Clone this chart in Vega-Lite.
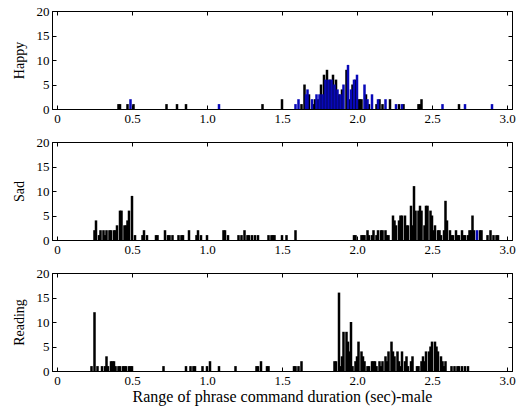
{
 "$schema": "https://vega.github.io/schema/vega-lite/v6.json",
 "data": {"values": [
  {"p":"Happy","s":"k","d":0.41,"n":1},{"p":"Happy","s":"k","d":0.42,"n":1},{"p":"Happy","s":"k","d":0.47,"n":1},{"p":"Happy","s":"k","d":0.51,"n":1},{"p":"Happy","s":"k","d":0.73,"n":1},{"p":"Happy","s":"k","d":0.80,"n":1},{"p":"Happy","s":"k","d":0.86,"n":1},{"p":"Happy","s":"k","d":1.37,"n":1},{"p":"Happy","s":"k","d":1.50,"n":2},{"p":"Happy","s":"k","d":1.63,"n":1},{"p":"Happy","s":"k","d":1.65,"n":5},{"p":"Happy","s":"k","d":1.68,"n":3},{"p":"Happy","s":"k","d":1.71,"n":1},{"p":"Happy","s":"k","d":1.72,"n":2},{"p":"Happy","s":"k","d":1.74,"n":2},{"p":"Happy","s":"k","d":1.76,"n":5},{"p":"Happy","s":"k","d":1.78,"n":7},{"p":"Happy","s":"k","d":1.80,"n":8},{"p":"Happy","s":"k","d":1.82,"n":6},{"p":"Happy","s":"k","d":1.84,"n":7},{"p":"Happy","s":"k","d":1.86,"n":6},{"p":"Happy","s":"k","d":1.88,"n":3},{"p":"Happy","s":"k","d":1.90,"n":4},{"p":"Happy","s":"k","d":1.93,"n":8},{"p":"Happy","s":"k","d":1.95,"n":2},{"p":"Happy","s":"k","d":1.97,"n":5},{"p":"Happy","s":"k","d":1.99,"n":6},{"p":"Happy","s":"k","d":2.01,"n":2},{"p":"Happy","s":"k","d":2.02,"n":2},{"p":"Happy","s":"k","d":2.03,"n":2},{"p":"Happy","s":"k","d":2.06,"n":3},{"p":"Happy","s":"k","d":2.08,"n":1},{"p":"Happy","s":"k","d":2.13,"n":1},{"p":"Happy","s":"k","d":2.15,"n":2},{"p":"Happy","s":"k","d":2.17,"n":1},{"p":"Happy","s":"k","d":2.22,"n":2},{"p":"Happy","s":"k","d":2.28,"n":1},{"p":"Happy","s":"k","d":2.31,"n":1},{"p":"Happy","s":"k","d":2.41,"n":1},{"p":"Happy","s":"k","d":2.42,"n":1},{"p":"Happy","s":"k","d":2.43,"n":2},{"p":"Happy","s":"k","d":2.68,"n":1},
  {"p":"Happy","s":"b","d":0.49,"n":2},{"p":"Happy","s":"b","d":1.08,"n":1},{"p":"Happy","s":"b","d":1.59,"n":1},{"p":"Happy","s":"b","d":1.61,"n":2},{"p":"Happy","s":"b","d":1.66,"n":3},{"p":"Happy","s":"b","d":1.67,"n":4},{"p":"Happy","s":"b","d":1.70,"n":2},{"p":"Happy","s":"b","d":1.73,"n":3},{"p":"Happy","s":"b","d":1.75,"n":3},{"p":"Happy","s":"b","d":1.77,"n":3},{"p":"Happy","s":"b","d":1.79,"n":6},{"p":"Happy","s":"b","d":1.81,"n":6},{"p":"Happy","s":"b","d":1.83,"n":6},{"p":"Happy","s":"b","d":1.85,"n":5},{"p":"Happy","s":"b","d":1.87,"n":4},{"p":"Happy","s":"b","d":1.89,"n":3},{"p":"Happy","s":"b","d":1.91,"n":5},{"p":"Happy","s":"b","d":1.94,"n":9},{"p":"Happy","s":"b","d":1.96,"n":4},{"p":"Happy","s":"b","d":1.98,"n":6},{"p":"Happy","s":"b","d":2.00,"n":7},{"p":"Happy","s":"b","d":2.05,"n":5},{"p":"Happy","s":"b","d":2.07,"n":2},{"p":"Happy","s":"b","d":2.10,"n":3},{"p":"Happy","s":"b","d":2.14,"n":2},{"p":"Happy","s":"b","d":2.19,"n":2},{"p":"Happy","s":"b","d":2.26,"n":1},{"p":"Happy","s":"b","d":2.30,"n":1},{"p":"Happy","s":"b","d":2.57,"n":1},{"p":"Happy","s":"b","d":2.72,"n":1},{"p":"Happy","s":"b","d":2.90,"n":1},
  {"p":"Sad","s":"k","d":0.25,"n":2},{"p":"Sad","s":"k","d":0.26,"n":4},{"p":"Sad","s":"k","d":0.28,"n":1},{"p":"Sad","s":"k","d":0.29,"n":2},{"p":"Sad","s":"k","d":0.31,"n":2},{"p":"Sad","s":"k","d":0.32,"n":1},{"p":"Sad","s":"k","d":0.33,"n":2},{"p":"Sad","s":"k","d":0.35,"n":2},{"p":"Sad","s":"k","d":0.36,"n":2},{"p":"Sad","s":"k","d":0.38,"n":2},{"p":"Sad","s":"k","d":0.39,"n":2},{"p":"Sad","s":"k","d":0.40,"n":3},{"p":"Sad","s":"k","d":0.42,"n":6},{"p":"Sad","s":"k","d":0.43,"n":6},{"p":"Sad","s":"k","d":0.45,"n":3},{"p":"Sad","s":"k","d":0.46,"n":3},{"p":"Sad","s":"k","d":0.47,"n":4},{"p":"Sad","s":"k","d":0.48,"n":6},{"p":"Sad","s":"k","d":0.50,"n":9},{"p":"Sad","s":"k","d":0.52,"n":1},{"p":"Sad","s":"k","d":0.57,"n":1},{"p":"Sad","s":"k","d":0.58,"n":2},{"p":"Sad","s":"k","d":0.60,"n":1},{"p":"Sad","s":"k","d":0.66,"n":1},{"p":"Sad","s":"k","d":0.67,"n":1},{"p":"Sad","s":"k","d":0.72,"n":2},{"p":"Sad","s":"k","d":0.74,"n":1},{"p":"Sad","s":"k","d":0.75,"n":1},{"p":"Sad","s":"k","d":0.77,"n":1},{"p":"Sad","s":"k","d":0.81,"n":1},{"p":"Sad","s":"k","d":0.83,"n":1},{"p":"Sad","s":"k","d":0.84,"n":1},{"p":"Sad","s":"k","d":0.88,"n":2},{"p":"Sad","s":"k","d":0.93,"n":1},{"p":"Sad","s":"k","d":0.94,"n":2},{"p":"Sad","s":"k","d":0.96,"n":1},{"p":"Sad","s":"k","d":1.00,"n":1},{"p":"Sad","s":"k","d":1.11,"n":2},{"p":"Sad","s":"k","d":1.12,"n":2},{"p":"Sad","s":"k","d":1.14,"n":1},{"p":"Sad","s":"k","d":1.21,"n":1},{"p":"Sad","s":"k","d":1.23,"n":1},{"p":"Sad","s":"k","d":1.25,"n":2},{"p":"Sad","s":"k","d":1.27,"n":1},{"p":"Sad","s":"k","d":1.28,"n":1},{"p":"Sad","s":"k","d":1.30,"n":1},{"p":"Sad","s":"k","d":1.32,"n":1},{"p":"Sad","s":"k","d":1.34,"n":1},{"p":"Sad","s":"k","d":1.41,"n":1},{"p":"Sad","s":"k","d":1.43,"n":1},{"p":"Sad","s":"k","d":1.44,"n":1},{"p":"Sad","s":"k","d":1.45,"n":1},{"p":"Sad","s":"k","d":1.50,"n":1},{"p":"Sad","s":"k","d":1.53,"n":1},{"p":"Sad","s":"k","d":1.59,"n":2},{"p":"Sad","s":"k","d":1.98,"n":1},{"p":"Sad","s":"k","d":1.99,"n":1},{"p":"Sad","s":"k","d":2.03,"n":1},{"p":"Sad","s":"k","d":2.04,"n":1},{"p":"Sad","s":"k","d":2.05,"n":1},{"p":"Sad","s":"k","d":2.07,"n":2},{"p":"Sad","s":"k","d":2.08,"n":1},{"p":"Sad","s":"k","d":2.10,"n":1},{"p":"Sad","s":"k","d":2.11,"n":2},{"p":"Sad","s":"k","d":2.13,"n":1},{"p":"Sad","s":"k","d":2.14,"n":2},{"p":"Sad","s":"k","d":2.16,"n":2},{"p":"Sad","s":"k","d":2.17,"n":2},{"p":"Sad","s":"k","d":2.19,"n":2},{"p":"Sad","s":"k","d":2.20,"n":1},{"p":"Sad","s":"k","d":2.21,"n":1},{"p":"Sad","s":"k","d":2.24,"n":5},{"p":"Sad","s":"k","d":2.25,"n":4},{"p":"Sad","s":"k","d":2.26,"n":3},{"p":"Sad","s":"k","d":2.28,"n":4},{"p":"Sad","s":"k","d":2.29,"n":5},{"p":"Sad","s":"k","d":2.30,"n":5},{"p":"Sad","s":"k","d":2.32,"n":5},{"p":"Sad","s":"k","d":2.33,"n":3},{"p":"Sad","s":"k","d":2.34,"n":3},{"p":"Sad","s":"k","d":2.36,"n":7},{"p":"Sad","s":"k","d":2.37,"n":3},{"p":"Sad","s":"k","d":2.38,"n":11},{"p":"Sad","s":"k","d":2.39,"n":6},{"p":"Sad","s":"k","d":2.41,"n":6},{"p":"Sad","s":"k","d":2.42,"n":7},{"p":"Sad","s":"k","d":2.43,"n":6},{"p":"Sad","s":"k","d":2.45,"n":3},{"p":"Sad","s":"k","d":2.46,"n":7},{"p":"Sad","s":"k","d":2.47,"n":7},{"p":"Sad","s":"k","d":2.49,"n":6},{"p":"Sad","s":"k","d":2.50,"n":5},{"p":"Sad","s":"k","d":2.51,"n":2},{"p":"Sad","s":"k","d":2.52,"n":3},{"p":"Sad","s":"k","d":2.54,"n":2},{"p":"Sad","s":"k","d":2.55,"n":2},{"p":"Sad","s":"k","d":2.56,"n":1},{"p":"Sad","s":"k","d":2.58,"n":2},{"p":"Sad","s":"k","d":2.59,"n":8},{"p":"Sad","s":"k","d":2.60,"n":4},{"p":"Sad","s":"k","d":2.62,"n":2},{"p":"Sad","s":"k","d":2.63,"n":1},{"p":"Sad","s":"k","d":2.64,"n":1},{"p":"Sad","s":"k","d":2.66,"n":2},{"p":"Sad","s":"k","d":2.67,"n":1},{"p":"Sad","s":"k","d":2.68,"n":1},{"p":"Sad","s":"k","d":2.70,"n":2},{"p":"Sad","s":"k","d":2.71,"n":1},{"p":"Sad","s":"k","d":2.72,"n":1},{"p":"Sad","s":"k","d":2.74,"n":1},{"p":"Sad","s":"k","d":2.75,"n":2},{"p":"Sad","s":"k","d":2.76,"n":2},{"p":"Sad","s":"k","d":2.77,"n":5},{"p":"Sad","s":"k","d":2.78,"n":2},{"p":"Sad","s":"k","d":2.82,"n":2},{"p":"Sad","s":"k","d":2.83,"n":2},{"p":"Sad","s":"k","d":2.87,"n":1},{"p":"Sad","s":"k","d":2.89,"n":2},{"p":"Sad","s":"k","d":2.91,"n":1},{"p":"Sad","s":"k","d":2.93,"n":1},{"p":"Sad","s":"k","d":2.94,"n":1},
  {"p":"Sad","s":"b","d":2.80,"n":2},
  {"p":"Reading","s":"k","d":0.23,"n":1},{"p":"Reading","s":"k","d":0.25,"n":12},{"p":"Reading","s":"k","d":0.27,"n":1},{"p":"Reading","s":"k","d":0.30,"n":1},{"p":"Reading","s":"k","d":0.32,"n":1},{"p":"Reading","s":"k","d":0.33,"n":3},{"p":"Reading","s":"k","d":0.34,"n":1},{"p":"Reading","s":"k","d":0.36,"n":2},{"p":"Reading","s":"k","d":0.37,"n":2},{"p":"Reading","s":"k","d":0.38,"n":2},{"p":"Reading","s":"k","d":0.39,"n":1},{"p":"Reading","s":"k","d":0.41,"n":1},{"p":"Reading","s":"k","d":0.42,"n":1},{"p":"Reading","s":"k","d":0.44,"n":1},{"p":"Reading","s":"k","d":0.45,"n":1},{"p":"Reading","s":"k","d":0.46,"n":1},{"p":"Reading","s":"k","d":0.48,"n":1},{"p":"Reading","s":"k","d":0.49,"n":1},{"p":"Reading","s":"k","d":0.50,"n":1},{"p":"Reading","s":"k","d":0.71,"n":1},{"p":"Reading","s":"k","d":0.86,"n":1},{"p":"Reading","s":"k","d":0.89,"n":1},{"p":"Reading","s":"k","d":0.91,"n":1},{"p":"Reading","s":"k","d":0.92,"n":1},{"p":"Reading","s":"k","d":0.97,"n":1},{"p":"Reading","s":"k","d":1.00,"n":1},{"p":"Reading","s":"k","d":1.02,"n":2},{"p":"Reading","s":"k","d":1.08,"n":1},{"p":"Reading","s":"k","d":1.19,"n":1},{"p":"Reading","s":"k","d":1.33,"n":1},{"p":"Reading","s":"k","d":1.34,"n":1},{"p":"Reading","s":"k","d":1.36,"n":2},{"p":"Reading","s":"k","d":1.40,"n":1},{"p":"Reading","s":"k","d":1.41,"n":1},{"p":"Reading","s":"k","d":1.58,"n":1},{"p":"Reading","s":"k","d":1.59,"n":1},{"p":"Reading","s":"k","d":1.61,"n":1},{"p":"Reading","s":"k","d":1.63,"n":2},{"p":"Reading","s":"k","d":1.85,"n":2},{"p":"Reading","s":"k","d":1.86,"n":2},{"p":"Reading","s":"k","d":1.88,"n":16},{"p":"Reading","s":"k","d":1.89,"n":1},{"p":"Reading","s":"k","d":1.90,"n":3},{"p":"Reading","s":"k","d":1.91,"n":8},{"p":"Reading","s":"k","d":1.93,"n":8},{"p":"Reading","s":"k","d":1.94,"n":6},{"p":"Reading","s":"k","d":1.95,"n":4},{"p":"Reading","s":"k","d":1.96,"n":10},{"p":"Reading","s":"k","d":1.97,"n":1},{"p":"Reading","s":"k","d":1.99,"n":2},{"p":"Reading","s":"k","d":2.00,"n":3},{"p":"Reading","s":"k","d":2.01,"n":6},{"p":"Reading","s":"k","d":2.03,"n":4},{"p":"Reading","s":"k","d":2.04,"n":3},{"p":"Reading","s":"k","d":2.05,"n":2},{"p":"Reading","s":"k","d":2.07,"n":1},{"p":"Reading","s":"k","d":2.08,"n":1},{"p":"Reading","s":"k","d":2.10,"n":2},{"p":"Reading","s":"k","d":2.11,"n":2},{"p":"Reading","s":"k","d":2.12,"n":2},{"p":"Reading","s":"k","d":2.13,"n":1},{"p":"Reading","s":"k","d":2.15,"n":2},{"p":"Reading","s":"k","d":2.16,"n":1},{"p":"Reading","s":"k","d":2.17,"n":2},{"p":"Reading","s":"k","d":2.19,"n":3},{"p":"Reading","s":"k","d":2.20,"n":2},{"p":"Reading","s":"k","d":2.21,"n":4},{"p":"Reading","s":"k","d":2.23,"n":6},{"p":"Reading","s":"k","d":2.24,"n":4},{"p":"Reading","s":"k","d":2.25,"n":3},{"p":"Reading","s":"k","d":2.27,"n":4},{"p":"Reading","s":"k","d":2.28,"n":2},{"p":"Reading","s":"k","d":2.29,"n":1},{"p":"Reading","s":"k","d":2.30,"n":4},{"p":"Reading","s":"k","d":2.32,"n":2},{"p":"Reading","s":"k","d":2.33,"n":3},{"p":"Reading","s":"k","d":2.34,"n":1},{"p":"Reading","s":"k","d":2.36,"n":2},{"p":"Reading","s":"k","d":2.37,"n":3},{"p":"Reading","s":"k","d":2.40,"n":1},{"p":"Reading","s":"k","d":2.41,"n":1},{"p":"Reading","s":"k","d":2.43,"n":2},{"p":"Reading","s":"k","d":2.44,"n":3},{"p":"Reading","s":"k","d":2.45,"n":2},{"p":"Reading","s":"k","d":2.46,"n":4},{"p":"Reading","s":"k","d":2.48,"n":4},{"p":"Reading","s":"k","d":2.49,"n":5},{"p":"Reading","s":"k","d":2.50,"n":6},{"p":"Reading","s":"k","d":2.52,"n":6},{"p":"Reading","s":"k","d":2.53,"n":5},{"p":"Reading","s":"k","d":2.54,"n":4},{"p":"Reading","s":"k","d":2.56,"n":3},{"p":"Reading","s":"k","d":2.57,"n":2},{"p":"Reading","s":"k","d":2.58,"n":1},{"p":"Reading","s":"k","d":2.59,"n":2},{"p":"Reading","s":"k","d":2.63,"n":1},{"p":"Reading","s":"k","d":2.65,"n":1},{"p":"Reading","s":"k","d":2.67,"n":1},{"p":"Reading","s":"k","d":2.68,"n":1},{"p":"Reading","s":"k","d":2.70,"n":1},{"p":"Reading","s":"k","d":2.72,"n":1},{"p":"Reading","s":"k","d":2.74,"n":1}
 ]},
 "spacing": 33,
 "bounds": "flush",
 "padding": {"left": 11, "top": 4, "right": 5, "bottom": 5},
 "config": {
  "view": {"stroke": "#000", "strokeWidth": 1},
  "axis": {"labelFont": "Liberation Serif", "labelFontSize": 13, "labelColor": "#000", "titleFont": "Liberation Serif", "titleFontWeight": "normal", "titleColor": "#000", "domainColor": "#000", "tickColor": "#000", "grid": false, "tickSize": -4, "labelPadding": 7, "labelFlush": false, "labelOverlap": false}
 },
 "vconcat": [
  {"width": 460, "height": 98, "transform": [{"filter": "datum.p == 'Happy'"}],
   "resolve": {"axis": {"x": "independent", "y": "independent"}},
   "layer": [
    {"transform": [{"filter": "datum.s == 'k'"}], "mark": {"type": "bar", "size": 2.5, "color": "#000"},
     "encoding": {"x": {"field": "d", "type": "quantitative", "scale": {"domain": [0, 3], "nice": false, "zero": false}, "axis": {"orient": "bottom", "title": null, "labelFont": "Liberation Serif", "values": [0, 0.5, 1, 1.5, 2, 2.5, 3], "labelExpr": "datum.value == 0 ? '0' : format(datum.value, '.1f')"}},
      "y": {"field": "n", "type": "quantitative", "scale": {"domain": [0, 20], "nice": false}, "axis": {"orient": "left", "title": "Happy", "labelFont": "Liberation Serif", "titleFontSize": 14, "titlePadding": 10, "values": [0, 5, 10, 15, 20]}}}},
    {"transform": [{"filter": "datum.s == 'b'"}], "mark": {"type": "bar", "size": 2.5, "color": "#0808b8"},
     "encoding": {"x": {"field": "d", "type": "quantitative", "scale": {"domain": [0, 3], "nice": false, "zero": false}, "axis": {"orient": "top", "title": null, "labels": false, "values": [0, 0.5, 1, 1.5, 2, 2.5, 3]}},
      "y": {"field": "n", "type": "quantitative", "scale": {"domain": [0, 20], "nice": false}, "axis": {"orient": "right", "title": null, "labels": false, "values": [0, 5, 10, 15, 20]}}}}
   ]},
  {"width": 460, "height": 98, "transform": [{"filter": "datum.p == 'Sad'"}],
   "resolve": {"axis": {"x": "independent", "y": "independent"}},
   "layer": [
    {"transform": [{"filter": "datum.s == 'k'"}], "mark": {"type": "bar", "size": 2.5, "color": "#000"},
     "encoding": {"x": {"field": "d", "type": "quantitative", "scale": {"domain": [0, 3], "nice": false, "zero": false}, "axis": {"orient": "bottom", "title": null, "labelFont": "Liberation Serif", "values": [0, 0.5, 1, 1.5, 2, 2.5, 3], "labelExpr": "datum.value == 0 ? '0' : format(datum.value, '.1f')"}},
      "y": {"field": "n", "type": "quantitative", "scale": {"domain": [0, 20], "nice": false}, "axis": {"orient": "left", "title": "Sad", "labelFont": "Liberation Serif", "titleFontSize": 14, "titlePadding": 10, "values": [0, 5, 10, 15, 20]}}}},
    {"transform": [{"filter": "datum.s == 'b'"}], "mark": {"type": "bar", "size": 2.5, "color": "#0808b8"},
     "encoding": {"x": {"field": "d", "type": "quantitative", "scale": {"domain": [0, 3], "nice": false, "zero": false}, "axis": {"orient": "top", "title": null, "labels": false, "values": [0, 0.5, 1, 1.5, 2, 2.5, 3]}},
      "y": {"field": "n", "type": "quantitative", "scale": {"domain": [0, 20], "nice": false}, "axis": {"orient": "right", "title": null, "labels": false, "values": [0, 5, 10, 15, 20]}}}}
   ]},
  {"width": 460, "height": 98, "transform": [{"filter": "datum.p == 'Reading'"}],
   "resolve": {"axis": {"x": "independent", "y": "independent"}},
   "layer": [
    {"transform": [{"filter": "datum.s == 'k'"}], "mark": {"type": "bar", "size": 2.5, "color": "#000"},
     "encoding": {"x": {"field": "d", "type": "quantitative", "scale": {"domain": [0, 3], "nice": false, "zero": false}, "axis": {"orient": "bottom", "title": "Range of phrase command duration (sec)-male", "labelFont": "Liberation Serif", "titleFontSize": 16, "titlePadding": 1, "values": [0, 0.5, 1, 1.5, 2, 2.5, 3], "labelExpr": "datum.value == 0 ? '0' : format(datum.value, '.1f')"}},
      "y": {"field": "n", "type": "quantitative", "scale": {"domain": [0, 20], "nice": false}, "axis": {"orient": "left", "title": "Reading", "labelFont": "Liberation Serif", "titleFontSize": 14, "titlePadding": 10, "values": [0, 5, 10, 15, 20]}}}},
    {"transform": [{"filter": "datum.s == 'b'"}], "mark": {"type": "bar", "size": 2.5, "color": "#0808b8"},
     "encoding": {"x": {"field": "d", "type": "quantitative", "scale": {"domain": [0, 3], "nice": false, "zero": false}, "axis": {"orient": "top", "title": null, "labels": false, "values": [0, 0.5, 1, 1.5, 2, 2.5, 3]}},
      "y": {"field": "n", "type": "quantitative", "scale": {"domain": [0, 20], "nice": false}, "axis": {"orient": "right", "title": null, "labels": false, "values": [0, 5, 10, 15, 20]}}}}
   ]}
 ]
}
